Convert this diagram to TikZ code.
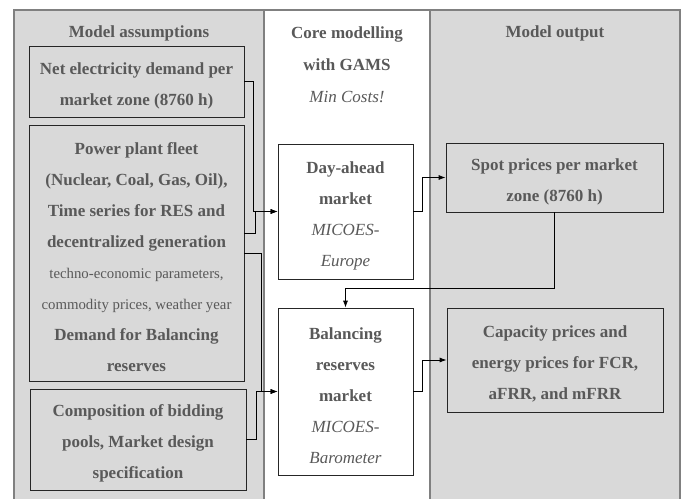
\documentclass[tikz,border=0pt]{standalone}
\usepackage{fontspec}
\setmainfont{Liberation Serif}
\usetikzlibrary{arrows.meta}
\definecolor{panelgray}{HTML}{D9D9D9}
\definecolor{framegray}{HTML}{808080}
\definecolor{textgray}{HTML}{595959}
\newcommand{\smalltxt}[1]{{\mdseries\fontsize{14.8}{31}\selectfont #1}}
\newcommand{\itltxt}[1]{{\mdseries\itshape #1}}
\newcommand{\topstrut}{\rule{0pt}{20pt}}

\begin{document}
\begin{tikzpicture}[x=1pt,y=-1pt,
  panel/.style={draw=framegray,line width=1.5pt},
  box/.style={draw=black!85,fill=panelgray,line width=0.8pt,align=center,
    text=textgray,font=\fontsize{17}{31}\selectfont\bfseries,inner sep=0pt},
  head/.style={align=center,text=textgray,font=\fontsize{17}{32}\selectfont\bfseries},
  link/.style={draw,line width=0.8pt,-{Latex[length=7pt,width=5pt]}}]
\useasboundingbox (0,0) rectangle (688,498);
\clip (0,0) rectangle (688,498);
% columns
\path[panel,fill=panelgray] (14,10) rectangle (264,510);
\path[panel,fill=white] (264,10) rectangle (430,510);
\path[panel,fill=panelgray] (430,10) rectangle (680,510);

\node[head] (assump) at (139,33) {Model assumptions};
\node[head] (core) at (347,49) {Core modelling\\with GAMS};
\node[head,font=\fontsize{17}{32}\selectfont\itshape] (mincost) at (347,97) {Min Costs!};
\node[head] (output) at (555,33) {Model output};

% input boxes
\node[box,minimum width=215,minimum height=71] (demand) at (136.5,81.5)
  {\topstrut Net electricity demand per\\market zone (8760 h)};
\node[box,minimum width=215,minimum height=256] (fleet) at (136.5,253)
  {\topstrut Power plant fleet\\(Nuclear, Coal, Gas, Oil),\\Time series for RES and\\decentralized generation\\
   \smalltxt{techno-economic parameters,}\\\smalltxt{commodity prices, weather year}\\
   Demand for Balancing\\reserves};
\node[box,minimum width=216,minimum height=101] (comp) at (138,439.5)
  {\topstrut Composition of bidding\\pools, Market design\\specification};

% model boxes
\node[box,fill=white,minimum width=135,minimum height=135] (dayahead) at (345.5,211.5)
  {\topstrut Day-ahead\\market\\\itltxt{MICOES-}\\\itltxt{Europe}};
\node[box,fill=white,minimum width=135,minimum height=167] (balancing) at (345.5,391.5)
  {\topstrut Balancing\\reserves\\market\\\itltxt{MICOES-}\\\itltxt{Barometer}};

% output boxes
\node[box,minimum width=217,minimum height=69] (spot) at (554.5,177.5)
  {\topstrut Spot prices per market\\zone (8760 h)};
\node[box,minimum width=216,minimum height=104] (capacity) at (555,360)
  {\topstrut Capacity prices and\\energy prices for FCR,\\aFRR, and mFRR};

\path[link] (demand.east) -- ++(9,0) |- (dayahead.west);
\path[link] ([yshift=20pt]fleet.east) -- ++(11,0) |- (dayahead.west);
\path[link] (fleet.east) -- ++(17,0) |- (balancing.west);
\path[link] (comp.east) -- ++(10,0) |- (balancing.west);
\path[link] (dayahead.east) -- ++(9,0) |- (spot.west);
\path[link] (spot.south) -- ++(0,76) -| (balancing.north);
\path[link] (balancing.east) -- ++(9,0) |- (capacity.west);
\end{tikzpicture}
\end{document}
